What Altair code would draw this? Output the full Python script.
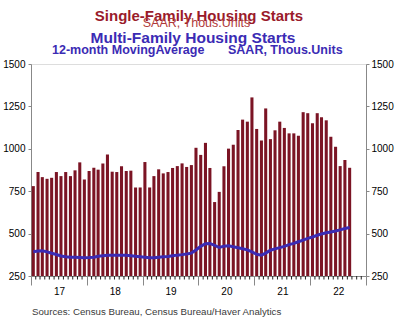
import altair as alt
import pandas as pd

# ---- data ----
single_family = [780, 863, 833, 823, 829, 863, 839, 863, 839, 873, 920, 819,
                 869, 888, 877, 914, 966, 865, 863, 897, 869, 871, 772, 772,
                 922, 772, 839, 879, 855, 863, 887, 898, 914, 893, 904, 1006,
                 964, 1035, 887, 686, 746, 897, 1001, 1024, 1111, 1172, 1160, 1303,
                 1117, 1049, 1238, 1057, 1109, 1160, 1123, 1091, 1091, 1077, 1216, 1210,
                 1150, 1210, 1186, 1168, 1071, 1012, 898, 934, 888]
multi_family_ma = [393, 397, 399, 392, 384, 377, 368, 364, 361, 360, 359, 358,
                   359, 361, 366, 369, 372, 373, 373, 373, 373, 370, 366, 363,
                   360, 357, 357, 360, 363, 365, 369, 373, 376, 380, 385, 403,
                   425, 440, 442, 430, 418, 426, 428, 422, 417, 411, 404, 392,
                   378, 373, 385, 402, 410, 417, 425, 435, 442, 452, 462, 472,
                   480, 490, 498, 505, 510, 515, 522, 530, 536]
year_ticks = [2017, 2018, 2019, 2020, 2021, 2022, 2023]
y_ticks = [250, 500, 750, 1000, 1250, 1500]

title1 = "Single-Family Housing Starts"
title2 = "SAAR, Thous.Units"
title3 = "Multi-Family Housing Starts"
title4a = "12-month MovingAverage"
title4b = "SAAR, Thous.Units"
source = "Sources:  Census Bureau, Census Bureau/Haver Analytics"

months = pd.date_range("2017-01-01", periods=len(single_family), freq="MS")
df = pd.DataFrame({
    "start": (months + pd.Timedelta(days=5)).strftime("%Y-%m-%dT00:00:00"),
    "end": (months + pd.Timedelta(days=25)).strftime("%Y-%m-%dT00:00:00"),
    "mid": (months + pd.Timedelta(days=15)).strftime("%Y-%m-%dT00:00:00"),
    "single": single_family,
    "multi": multi_family_ma,
})
all_months = pd.date_range("2017-01-01", "2022-12-01", freq="MS")
minor = pd.DataFrame({"m": [d.strftime("%Y-%m-%dT00:00:00") for d in all_months if d.month != 1]})

xscale = alt.Scale(domain=[alt.DateTime(year=2017, month=1, date=1),
                           alt.DateTime(year=2023, month=1, date=1)], nice=False)
yscale = alt.Scale(domain=[250, 1500], nice=False, zero=False)

xaxis = alt.Axis(values=[alt.DateTime(year=y, month=1, date=1) for y in year_ticks],
                 labelExpr="year(datum.value) == 2023 ? '' : timeFormat(datum.value, '%y')",
                 labelOffset=28, tickSize=9, labelPadding=1, labelBaseline="top",
                 labelAlign="center", title=None, grid=False)

bars = alt.Chart(df).mark_bar(color="#7b1424").encode(
    x=alt.X("start:T", scale=xscale, axis=xaxis),
    x2="end:T",
    y=alt.Y("single:Q", scale=yscale,
            axis=alt.Axis(values=y_ticks, orient="left", tickSize=3, labelPadding=3,
                          format="d", title=None, grid=False)),
    y2=alt.datum(250),
)

line = alt.Chart(df).mark_line(color="#3b2bb4", strokeWidth=3).encode(
    x=alt.X("mid:T", scale=xscale, axis=xaxis),
    y=alt.Y("multi:Q", scale=yscale,
            axis=alt.Axis(values=y_ticks, orient="right", tickSize=3, labelPadding=2,
                          format="d", title=None, grid=False)),
)

minor_ticks = alt.Chart(minor).mark_rule(color="#222", strokeWidth=1).encode(
    x=alt.X("m:T", scale=xscale, axis=xaxis),
    y=alt.value(212), y2=alt.value(215.5),
)

def txt(t, x, y, size, color, bold=True, align="center"):
    return alt.Chart(pd.DataFrame({"t": [t]})).mark_text(
        font="Liberation Sans", fontSize=size, fontWeight="bold" if bold else "normal",
        color=color, align=align, baseline="alphabetic"
    ).encode(text="t:N", x=alt.value(x), y=alt.value(y))

texts = [
    txt(title1, 168, -43.3, 15, "#9a1b2b"),
    txt(title2, 165.5, -37.3, 12.5, "#b03a3a", bold=False),
    txt(title3, 162, -20.7, 15.5, "#3b2bb4"),
    txt(title4a, 21, -9.7, 12.5, "#3b2bb4", align="left"),
    txt(title4b, 197, -9.7, 12.5, "#3b2bb4", align="left"),
    txt(source, 1, 251.3, 9.7, "#3a3a3a", bold=False, align="left"),
]

chart = alt.layer(bars, line, minor_ticks, *texts).resolve_axis(y="independent").properties(
    width=335, height=212,
    autosize=alt.AutoSizeParams(type="none"),
    padding={"left": 31, "top": 64, "right": 36, "bottom": 55},
).configure_view(stroke="#222", strokeWidth=1).configure_axis(
    labelFont="Liberation Sans", labelFontSize=10, labelColor="#333",
    domainColor="#222", tickColor="#222",
).configure(background="white")

chart.save("out.html", embed_options={"renderer": "svg", "actions": False})
